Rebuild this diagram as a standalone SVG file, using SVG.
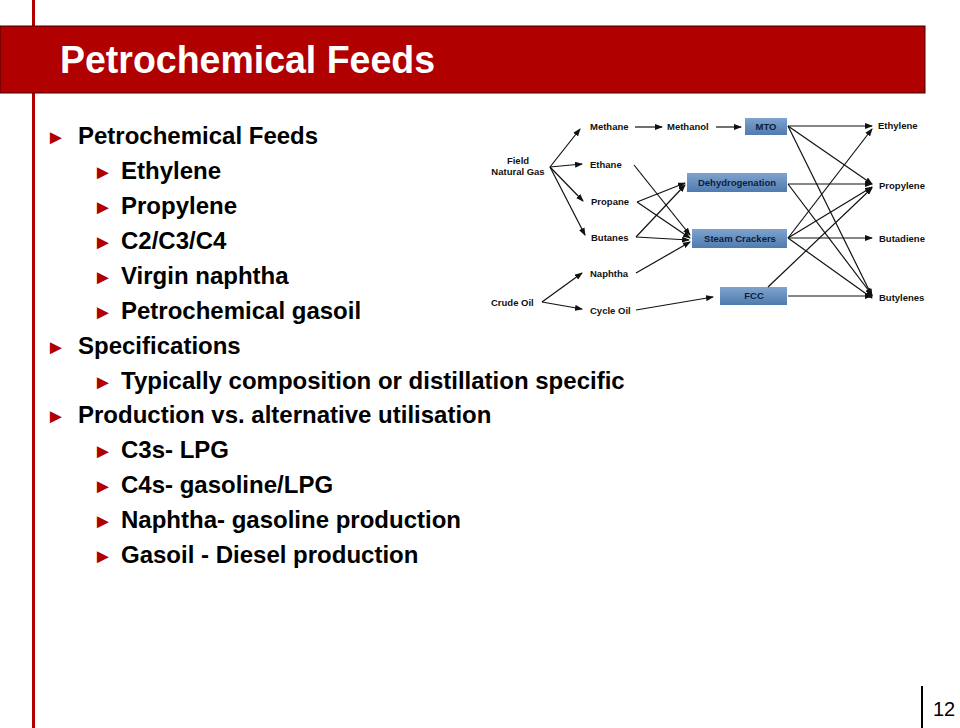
<svg xmlns="http://www.w3.org/2000/svg" width="960" height="728" viewBox="0 0 960 728">
<defs>
<marker id="ah" markerWidth="8" markerHeight="6" refX="7" refY="3" orient="auto" markerUnits="userSpaceOnUse"><path d="M0,0 L8,3 L0,6 z" fill="#111"/></marker>
<linearGradient id="bx" x1="0" y1="0" x2="0" y2="1"><stop offset="0" stop-color="#7fa3cc"/><stop offset="1" stop-color="#4f7bb0"/></linearGradient>
</defs>
<style>
.b{font-family:"Liberation Sans",Arial,sans-serif;font-weight:bold;font-size:24px;fill:#000}
.m{font-family:"Liberation Sans",Arial,sans-serif;font-size:20px;fill:#b00000}
.d{font-family:"Liberation Sans",Arial,sans-serif;font-weight:bold;font-size:9.5px;fill:#111}
.bt{font-family:"Liberation Sans",Arial,sans-serif;font-weight:bold;font-size:9.5px;fill:#0d1d3a;text-anchor:middle}
.c line{stroke:#111;stroke-width:1.2;marker-end:url(#ah)}
.box{fill:url(#bx)}
</style>
<rect width="960" height="728" fill="#fff"/>
<rect x="32" y="0" width="3" height="728" fill="#b00000"/>
<g id="title"><rect x="0" y="26" width="925" height="67" fill="#b00000" stroke="#400" stroke-width="1"/>
<text x="60" y="73" font-family="'Liberation Sans',Arial,sans-serif" font-weight="bold" font-size="38" fill="#fff" textLength="375" lengthAdjust="spacingAndGlyphs">Petrochemical Feeds</text></g>
<g id="bullets">
<text class="m" x="46" y="144">►</text><text class="b" x="78" y="144">Petrochemical Feeds</text>
<text class="m" x="93" y="179">►</text><text class="b" x="121" y="179">Ethylene</text>
<text class="m" x="93" y="214">►</text><text class="b" x="121" y="214">Propylene</text>
<text class="m" x="93" y="249">►</text><text class="b" x="121" y="249">C2/C3/C4</text>
<text class="m" x="93" y="284">►</text><text class="b" x="121" y="284">Virgin naphtha</text>
<text class="m" x="93" y="319">►</text><text class="b" x="121" y="319">Petrochemical gasoil</text>
<text class="m" x="46" y="354">►</text><text class="b" x="78" y="354">Specifications</text>
<text class="m" x="93" y="389">►</text><text class="b" x="121" y="389">Typically composition or distillation specific</text>
<text class="m" x="46" y="423">►</text><text class="b" x="78" y="423">Production vs. alternative utilisation</text>
<text class="m" x="93" y="458">►</text><text class="b" x="121" y="458">C3s- LPG</text>
<text class="m" x="93" y="493">►</text><text class="b" x="121" y="493">C4s- gasoline/LPG</text>
<text class="m" x="93" y="528">►</text><text class="b" x="121" y="528">Naphtha- gasoline production</text>
<text class="m" x="93" y="563">►</text><text class="b" x="121" y="563">Gasoil - Diesel production</text>
</g>
<g id="nodes">
<g id="fng"><text class="d" x="518" y="164" text-anchor="middle">Field</text><text class="d" x="518" y="175" text-anchor="middle">Natural Gas</text></g>
<g id="crude"><text class="d" x="491" y="306">Crude Oil</text></g>
<g id="methane"><text class="d" x="590" y="130">Methane</text></g>
<g id="methanol"><text class="d" x="667" y="130">Methanol</text></g>
<g id="ethane"><text class="d" x="590" y="168">Ethane</text></g>
<g id="propane"><text class="d" x="591" y="205">Propane</text></g>
<g id="butanes"><text class="d" x="591" y="241">Butanes</text></g>
<g id="naphtha"><text class="d" x="590" y="277">Naphtha</text></g>
<g id="cycle"><text class="d" x="590" y="314">Cycle Oil</text></g>
<g id="mto"><rect class="box" x="745" y="118" width="42" height="17"/><text class="bt" x="766" y="130">MTO</text></g>
<g id="dehyd"><rect class="box" x="687" y="173" width="100" height="19"/><text class="bt" x="737" y="186">Dehydrogenation</text></g>
<g id="sc"><rect class="box" x="692" y="229" width="95" height="19"/><text class="bt" x="740" y="242">Steam Crackers</text></g>
<g id="fcc"><rect class="box" x="720" y="287" width="67" height="18"/><text class="bt" x="754" y="299">FCC</text></g>
<g id="ethylene"><text class="d" x="878" y="129">Ethylene</text></g>
<g id="propylene"><text class="d" x="879" y="189">Propylene</text></g>
<g id="butadiene"><text class="d" x="879" y="242">Butadiene</text></g>
<g id="butylenes"><text class="d" x="879" y="301">Butylenes</text></g>
</g>
<g id="connectors" class="c">
<line x1="550" y1="167" x2="580" y2="129"/>
<line x1="550" y1="167" x2="582" y2="164"/>
<line x1="550" y1="167" x2="583" y2="201"/>
<line x1="550" y1="167" x2="585" y2="235"/>
<line x1="635" y1="127" x2="662" y2="127"/>
<line x1="716" y1="127" x2="741" y2="127"/>
<line x1="634" y1="165" x2="690" y2="235"/>
<line x1="637" y1="202" x2="685" y2="183"/>
<line x1="637" y1="202" x2="690" y2="238"/>
<line x1="636" y1="237" x2="685" y2="185"/>
<line x1="636" y1="237" x2="689" y2="240"/>
<line x1="636" y1="273" x2="690" y2="242"/>
<line x1="542" y1="302" x2="582" y2="273"/>
<line x1="542" y1="302" x2="582" y2="309"/>
<line x1="636" y1="310" x2="713" y2="297"/>
<line x1="788" y1="126" x2="872" y2="126"/>
<line x1="788" y1="126" x2="872" y2="184"/>
<line x1="788" y1="126" x2="872" y2="296"/>
<line x1="788" y1="184" x2="872" y2="184"/>
<line x1="788" y1="184" x2="872" y2="295"/>
<line x1="788" y1="238" x2="872" y2="129"/>
<line x1="788" y1="238" x2="872" y2="187"/>
<line x1="788" y1="238" x2="872" y2="238"/>
<line x1="788" y1="238" x2="872" y2="298"/>
<line x1="768" y1="287" x2="872" y2="188"/>
<line x1="788" y1="296" x2="872" y2="296"/>
</g>
<rect x="921" y="686" width="2" height="42" fill="#000"/>
<text x="933" y="716" font-family="'Liberation Sans',Arial,sans-serif" font-size="20" fill="#000">12</text>
</svg>
